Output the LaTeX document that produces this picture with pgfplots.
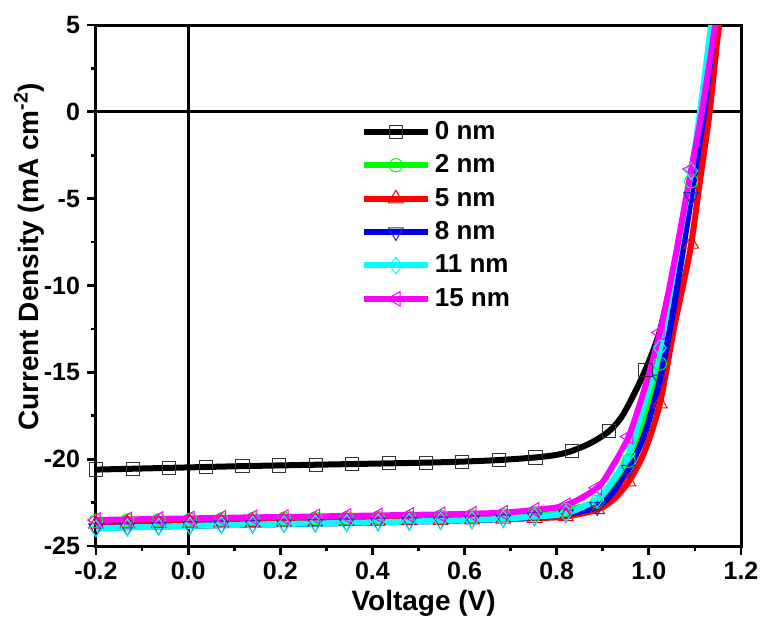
\documentclass[border=0pt]{standalone}
\usepackage{fontspec}
\setmainfont{Liberation Sans}
\usepackage{pgfplots}
\pgfplotsset{compat=1.18}
\definecolor{cgreen}{RGB}{0,255,0}
\definecolor{cred}{RGB}{255,0,0}
\definecolor{cblue}{RGB}{0,0,230}
\definecolor{ccyan}{RGB}{0,255,255}
\definecolor{cmag}{RGB}{255,0,255}
\pgfplotsset{
  sA/.style={black, line width=3pt, mark=square, mark size=3.3pt, mark options={solid, fill=white, draw=black!80, line width=0.5pt}},
  sB/.style={cgreen, line width=3pt, mark=o, mark size=3.3pt, mark options={solid, fill=white, draw=cgreen, line width=0.5pt}},
  sC/.style={cred, line width=3pt, mark=triangle, mark size=4.2pt, mark options={solid, fill=white, draw=cred, line width=0.5pt}},
  sD/.style={cblue, line width=3pt, mark=triangle, mark size=4.2pt, mark options={solid, fill=white, draw=cblue!70!gray, line width=0.5pt, rotate=180}},
  sE/.style={ccyan, line width=3pt, mark=diamond, mark size=4.2pt, mark options={solid, fill=white, draw=ccyan, line width=0.5pt}},
  sF/.style={cmag, line width=3pt, mark=triangle, mark size=4.2pt, mark options={solid, fill=white, draw=cmag, line width=0.5pt, rotate=90}},
}
\begin{document}
\begin{tikzpicture}
\begin{axis}[name=ax,
  scale only axis, width=322.5pt, height=260.5pt,
  xmin=-0.2, xmax=1.2, ymin=-25, ymax=5,
  xtick={-0.2,0,0.2,0.4,0.6,0.8,1.0,1.2},
  ytick={-25,-20,-15,-10,-5,0,5},
  minor x tick num=1, minor y tick num=1,
  tick pos=left, tick align=outside,
  major tick length=4.5pt, minor tick length=2.5pt,
  every tick/.style={black, line width=1.4pt},
  axis line style={line width=1.5pt},
  /pgf/number format/assume math mode=true,
  tick label style={font=\fontsize{12.5}{12.5}\selectfont\bfseries},
  xticklabel style={/pgf/number format/.cd, fixed, fixed zerofill, precision=1},
  yticklabel style={/pgf/number format/.cd, fixed, precision=0},
  xlabel={Voltage (V)},
  ylabel={Current Density (mA cm\textsuperscript{-2})},
  label style={font=\fontsize{14}{14}\selectfont\bfseries},
  xlabel style={at={(axis description cs:0.508,-0.11)}, anchor=center},
  ylabel style={at={(axis description cs:-0.104,0.555)}, anchor=center},
  legend style={at={(axis description cs:0.41,0.824)}, anchor=north west, draw=none, fill=none,
    font=\fontsize{13}{13}\selectfont\bfseries, row sep=2.2pt, inner sep=0pt},
  legend cell align=left,
  legend image code/.code={\draw[mark repeat=2,mark phase=2,#1] plot coordinates {(0pt,0pt) (16pt,0pt) (32pt,0pt)};},
]
% zero lines
\addplot[black, line width=1.6pt, forget plot] coordinates {(-0.2,0) (1.2,0)};
\addplot[black, line width=1.6pt, forget plot] coordinates {(0,-25) (0,5)};

% 0 nm
\addplot[sA, mark=none, smooth, forget plot] coordinates {
(-0.2,-20.6) (-0.1205,-20.55) (-0.041,-20.5) (0.0385,-20.45) (0.118,-20.4) (0.1975,-20.36)
(0.277,-20.32) (0.3565,-20.28) (0.436,-20.24) (0.5155,-20.2) (0.595,-20.14) (0.6745,-20.05)
(0.754,-19.9) (0.8,-19.75) (0.8335,-19.52) (0.875,-19.05) (0.913,-18.4) (0.94,-17.6) (0.965,-16.4)
(0.9925,-14.85) (1.024,-12.6) (1.055,-8.9) (1.072,-6.4) (1.092,-3.6) (1.116,0) (1.14,5) (1.146,6)};
\addplot[sA, only marks, forget plot] coordinates {
(-0.2,-20.6) (-0.1205,-20.55) (-0.041,-20.5) (0.0385,-20.45) (0.118,-20.4) (0.1975,-20.36)
(0.277,-20.32) (0.3565,-20.28) (0.436,-20.24) (0.5155,-20.2) (0.595,-20.14) (0.6745,-20.05)
(0.754,-19.9) (0.8335,-19.52) (0.913,-18.4) (0.9925,-14.85)};

% 2 nm
\addplot[sB, mark=none, smooth, forget plot] coordinates {
(-0.2,-23.55) (-0.132,-23.53) (-0.064,-23.51) (0.004,-23.49) (0.072,-23.47) (0.14,-23.45)
(0.208,-23.43) (0.276,-23.41) (0.344,-23.39) (0.412,-23.37) (0.48,-23.35) (0.548,-23.32)
(0.616,-23.28) (0.684,-23.22) (0.752,-23.12) (0.82,-22.92) (0.888,-22.45) (0.922,-21.55)
(0.956,-20.1) (0.99,-17.6) (1.024,-14.5) (1.055,-10.2) (1.092,-4.0) (1.118,0) (1.14,5) (1.146,6)};
\addplot[sB, only marks, forget plot] coordinates {
(-0.2,-23.55) (-0.132,-23.53) (-0.064,-23.51) (0.004,-23.49) (0.072,-23.47) (0.14,-23.45)
(0.208,-23.43) (0.276,-23.41) (0.344,-23.39) (0.412,-23.37) (0.48,-23.35) (0.548,-23.32)
(0.616,-23.28) (0.684,-23.22) (0.752,-23.12) (0.82,-22.92) (0.888,-22.45)
(0.956,-20.1) (1.024,-14.5) (1.092,-4.0)};

% 5 nm
\addplot[sC, mark=none, smooth, forget plot] coordinates {
(-0.2,-23.73) (-0.132,-23.71) (-0.064,-23.69) (0.004,-23.67) (0.072,-23.65) (0.14,-23.63)
(0.208,-23.61) (0.276,-23.59) (0.344,-23.57) (0.412,-23.55) (0.48,-23.53) (0.548,-23.51)
(0.616,-23.48) (0.684,-23.44) (0.752,-23.4) (0.82,-23.3) (0.888,-22.9) (0.922,-22.35)
(0.956,-21.3) (0.99,-19.6) (1.024,-16.8) (1.055,-12.4) (1.075,-9.9) (1.092,-7.6)
(1.113,-3.6) (1.132,0) (1.148,4) (1.156,5.5)};
\addplot[sC, only marks, forget plot] coordinates {
(-0.2,-23.73) (-0.132,-23.71) (-0.064,-23.69) (0.004,-23.67) (0.072,-23.65) (0.14,-23.63)
(0.208,-23.61) (0.276,-23.59) (0.344,-23.57) (0.412,-23.55) (0.48,-23.53) (0.548,-23.51)
(0.616,-23.48) (0.684,-23.44) (0.752,-23.4) (0.82,-23.3) (0.888,-22.9)
(0.956,-21.3) (1.024,-16.8) (1.092,-7.6)};

% 8 nm
\addplot[sD, mark=none, smooth, forget plot] coordinates {
(-0.2,-23.96) (-0.132,-23.92) (-0.064,-23.88) (0.004,-23.84) (0.072,-23.8) (0.14,-23.77)
(0.208,-23.74) (0.276,-23.71) (0.344,-23.68) (0.412,-23.64) (0.48,-23.6) (0.548,-23.56)
(0.616,-23.51) (0.684,-23.45) (0.752,-23.34) (0.82,-23.16) (0.888,-22.75) (0.922,-21.9)
(0.956,-20.6) (0.99,-18.6) (1.024,-15.4) (1.055,-11.1) (1.092,-4.9) (1.12,0) (1.143,5) (1.148,6)};
\addplot[sD, only marks, forget plot] coordinates {
(-0.2,-23.96) (-0.132,-23.92) (-0.064,-23.88) (0.004,-23.84) (0.072,-23.8) (0.14,-23.77)
(0.208,-23.74) (0.276,-23.71) (0.344,-23.68) (0.412,-23.64) (0.48,-23.6) (0.548,-23.56)
(0.616,-23.51) (0.684,-23.45) (0.752,-23.34) (0.82,-23.16) (0.888,-22.75)
(0.956,-20.6) (1.024,-15.4) (1.092,-4.9)};

% 11 nm
\addplot[sE, mark=none, smooth, forget plot] coordinates {
(-0.2,-23.98) (-0.132,-23.93) (-0.064,-23.88) (0.004,-23.84) (0.072,-23.8) (0.14,-23.76)
(0.208,-23.73) (0.276,-23.7) (0.344,-23.67) (0.412,-23.63) (0.48,-23.59) (0.548,-23.55)
(0.616,-23.5) (0.684,-23.43) (0.752,-23.3) (0.82,-23.12) (0.888,-22.3) (0.922,-21.2)
(0.956,-19.7) (0.99,-16.8) (1.024,-13.6) (1.055,-9.0) (1.092,-3.4) (1.111,0) (1.135,5) (1.14,6)};
\addplot[sE, only marks, forget plot] coordinates {
(-0.2,-23.98) (-0.132,-23.93) (-0.064,-23.88) (0.004,-23.84) (0.072,-23.8) (0.14,-23.76)
(0.208,-23.73) (0.276,-23.7) (0.344,-23.67) (0.412,-23.63) (0.48,-23.59) (0.548,-23.55)
(0.616,-23.5) (0.684,-23.43) (0.752,-23.3) (0.82,-23.12) (0.888,-22.3)
(0.956,-19.7) (1.024,-13.6) (1.092,-3.4)};

% 15 nm
\addplot[sF, mark=none, smooth, forget plot] coordinates {
(-0.2,-23.5) (-0.132,-23.47) (-0.064,-23.44) (0.004,-23.41) (0.072,-23.38) (0.14,-23.35)
(0.208,-23.33) (0.276,-23.3) (0.344,-23.27) (0.412,-23.24) (0.48,-23.21) (0.548,-23.18)
(0.616,-23.14) (0.684,-23.08) (0.752,-22.92) (0.82,-22.65) (0.888,-21.65) (0.92,-20.45)
(0.956,-18.7) (0.99,-16.0) (1.024,-12.7) (1.055,-8.7) (1.092,-3.3) (1.115,0) (1.144,5) (1.15,6.1)};
\addplot[sF, only marks, forget plot] coordinates {
(-0.2,-23.5) (-0.132,-23.47) (-0.064,-23.44) (0.004,-23.41) (0.072,-23.38) (0.14,-23.35)
(0.208,-23.33) (0.276,-23.3) (0.344,-23.27) (0.412,-23.24) (0.48,-23.21) (0.548,-23.18)
(0.616,-23.14) (0.684,-23.08) (0.752,-22.92) (0.82,-22.65) (0.888,-21.65)
(0.956,-18.7) (1.024,-12.7) (1.092,-3.3)};

\addlegendimage{sA}\addlegendentry{0 nm}
\addlegendimage{sB}\addlegendentry{2 nm}
\addlegendimage{sC}\addlegendentry{5 nm}
\addlegendimage{sD}\addlegendentry{8 nm}
\addlegendimage{sE}\addlegendentry{11 nm}
\addlegendimage{sF}\addlegendentry{15 nm}
\end{axis}
\pgfresetboundingbox
\useasboundingbox ([shift={(-48pt,-38.5pt)}]ax.south west) rectangle ([shift={(11.5pt,12.5pt)}]ax.north east);
\end{tikzpicture}
\end{document}
